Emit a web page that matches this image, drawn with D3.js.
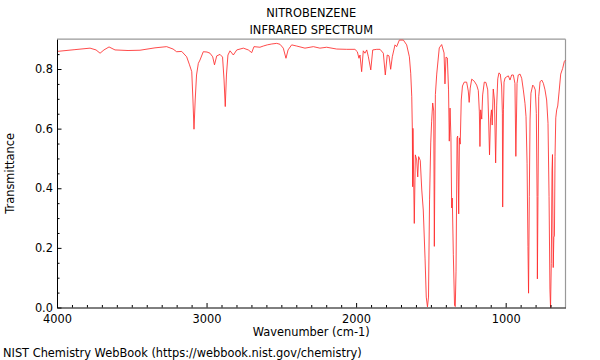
<!DOCTYPE html>
<html><head><meta charset="utf-8">
<script src="https://cdn.jsdelivr.net/npm/d3@7"></script>
<style>
html,body{margin:0;padding:0;background:#fff;}
text{font-family:'DejaVu Sans',sans-serif;fill:#000;}
</style></head>
<body><svg id="c" width="600" height="360"></svg>
<script>
// Wavenumber (cm-1) and transmittance
const wavenumber = [4000,3880,3779,3739,3712,3686,3652,3612,3525,3445,3345,3267,3224,3200,3166,3133,3114,3099,3091,3084,3076,3067,3055,3044,3022,2997,2977,2959,2947,2932,2910,2893,2883,2875,2867,2857,2843,2821,2798,2754,2721,2698,2683,2643,2621,2594,2564,2531,2509,2487,2469,2455,2431,2397,2342,2286,2242,2197,2130,2063,2008,1992,1981,1974,1963,1952,1941,1929,1918,1902,1889,1862,1840,1818,1805,1792,1780,1769,1758,1740,1729,1711,1684,1662,1644,1635,1628,1624,1622,1620,1611,1604,1595,1588,1582,1571,1561,1551,1539,1531,1523,1516,1509,1501,1495,1488,1481,1477,1470,1461,1444,1428,1412,1406,1399,1390,1382,1377,1372,1366,1361,1357,1350,1342,1337,1332,1325,1321,1314,1309,1304,1297,1289,1277,1261,1250,1244,1237,1227,1210,1194,1183,1176,1172,1167,1160,1154,1143,1132,1120,1114,1108,1101,1095,1090,1083,1075,1067,1060,1053,1045,1036,1027,1022,1020,1015,1011,1004,993,982,971,960,949,938,932,924,916,904,893,882,871,864,857,851,847,842,837,831,819,811,802,795,790,788,784,779,770,759,748,737,726,717,710,704,700,695,690,687,682,678,674,670,665,659,652,643,632,619,608,600];
const transmittance = [0.859,0.865,0.870,0.864,0.853,0.864,0.874,0.864,0.862,0.863,0.871,0.875,0.867,0.858,0.859,0.841,0.814,0.791,0.696,0.598,0.696,0.780,0.819,0.830,0.858,0.857,0.853,0.841,0.814,0.844,0.849,0.840,0.763,0.674,0.780,0.847,0.861,0.847,0.864,0.870,0.864,0.855,0.875,0.873,0.877,0.881,0.884,0.886,0.883,0.870,0.836,0.864,0.881,0.877,0.870,0.875,0.870,0.873,0.867,0.866,0.866,0.858,0.836,0.847,0.791,0.861,0.853,0.864,0.841,0.797,0.864,0.866,0.866,0.853,0.780,0.847,0.844,0.799,0.841,0.881,0.875,0.897,0.897,0.881,0.841,0.786,0.707,0.595,0.405,0.601,0.282,0.512,0.495,0.438,0.506,0.493,0.394,0.327,0.163,0.035,0.002,0.035,0.361,0.552,0.625,0.686,0.659,0.205,0.714,0.783,0.871,0.882,0.854,0.750,0.840,0.837,0.730,0.558,0.669,0.569,0.334,0.367,0.177,0.008,0.003,0.122,0.569,0.575,0.314,0.569,0.548,0.696,0.743,0.756,0.756,0.726,0.688,0.736,0.766,0.759,0.746,0.728,0.656,0.540,0.663,0.632,0.713,0.756,0.755,0.730,0.629,0.512,0.636,0.663,0.612,0.733,0.696,0.485,0.679,0.767,0.787,0.783,0.743,0.652,0.337,0.663,0.756,0.770,0.774,0.777,0.763,0.780,0.780,0.752,0.507,0.752,0.780,0.783,0.769,0.730,0.685,0.640,0.484,0.204,0.048,0.372,0.629,0.719,0.746,0.741,0.730,0.651,0.372,0.096,0.372,0.707,0.757,0.763,0.752,0.730,0.696,0.618,0.372,0.059,0.000,0.148,0.461,0.513,0.134,0.236,0.240,0.506,0.636,0.663,0.676,0.723,0.783,0.802,0.825,0.830];

const xMajorTicks = [4000,3000,2000,1000];
const xMinorTicks = d3.range(3900,600,-100).filter(v=>v%1000!==0);
const yMajorTicks = [0.0,0.2,0.4,0.6,0.8];
const yMinorTicks = [0.05,0.1,0.15,0.25,0.3,0.35,0.45,0.5,0.55,0.65,0.7,0.75,0.85];
const titleLines = ["NITROBENZENE","INFRARED SPECTRUM"];
const xLabel = "Wavenumber (cm-1)";
const yLabel = "Transmittance";
const footer = "NIST Chemistry WebBook (https://webbook.nist.gov/chemistry)";

const FS = "11.4px";
const svg = d3.select("#c");
const L=57, R=565.5, T=39.2, B=307.5;
const x = d3.scaleLinear().domain([4000,600]).range([L,R]);
const y = d3.scaleLinear().domain([0,0.9]).range([B,T]);

// frame top/right
svg.append("line").attr("x1",L).attr("x2",R).attr("y1",T).attr("y2",T).attr("stroke","#999").attr("stroke-width",1.2);
svg.append("line").attr("x1",R).attr("x2",R).attr("y1",T).attr("y2",B).attr("stroke","#999").attr("stroke-width",1.2);

// spectrum
const pts = wavenumber.map((w,i)=>[w,transmittance[i]]);
svg.append("path").datum(pts)
  .attr("fill","none").attr("stroke","#ff2a2a").attr("stroke-width",0.85).attr("stroke-linejoin","round")
  .attr("d", d3.line().x(d=>x(d[0])).y(d=>y(d[1])));

// axes
svg.append("g").attr("transform",`translate(0,${B})`)
  .call(d3.axisBottom(x).tickValues(xMajorTicks).tickFormat(d3.format("d")).tickSize(-4.5).tickSizeOuter(0).tickPadding(7));
const xMinor = svg.append("g").attr("transform",`translate(0,${B})`)
  .call(d3.axisBottom(x).tickValues(xMinorTicks).tickFormat("").tickSize(-2.5).tickSizeOuter(0));
xMinor.select(".domain").remove();
svg.append("g").attr("transform",`translate(${L},0)`)
  .call(d3.axisLeft(y).tickValues(yMajorTicks).tickFormat(d3.format(".1f")).tickSize(-4.5).tickSizeOuter(0).tickPadding(4));
const yMinor = svg.append("g").attr("transform",`translate(${L},0)`)
  .call(d3.axisLeft(y).tickValues(yMinorTicks).tickFormat("").tickSize(-2.5).tickSizeOuter(0));
yMinor.select(".domain").remove();
svg.selectAll(".tick text").style("font-family","'DejaVu Sans',sans-serif").style("font-size",FS).attr("fill","#000");
svg.selectAll(".domain").attr("stroke","#000");
svg.selectAll(".tick line").attr("stroke","#000");

// titles
svg.append("text").attr("x",(L+R)/2).attr("y",17).attr("text-anchor","middle").style("font-size",FS).text(titleLines[0]);
svg.append("text").attr("x",(L+R)/2).attr("y",34).attr("text-anchor","middle").style("font-size",FS).text(titleLines[1]);
svg.append("text").attr("x",(L+R)/2).attr("y",336).attr("text-anchor","middle").style("font-size",FS).text(xLabel);
svg.append("text").attr("transform",`translate(14,${(T+B)/2}) rotate(-90)`).attr("text-anchor","middle").style("font-size",FS).text(yLabel);
svg.append("text").attr("x",3).attr("y",357).style("font-size",FS).text(footer);
</script></body></html>
